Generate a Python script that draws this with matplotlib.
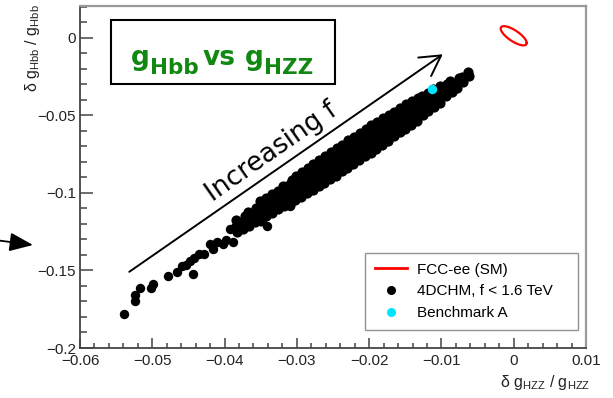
import numpy as np
import matplotlib
matplotlib.use('Agg')
import matplotlib.pyplot as plt
from matplotlib.lines import Line2D
from matplotlib.patches import Rectangle, FancyArrowPatch
from matplotlib.transforms import IdentityTransform

# axis ticks
xtick_vals = [-0.06, -0.05, -0.04, -0.03, -0.02, -0.01, 0.0, 0.01]
xtick_labels = ['\u22120.06', '\u22120.05', '\u22120.04', '\u22120.03', '\u22120.02', '\u22120.01', '0', '0.01']
ytick_vals = [-0.2, -0.15, -0.1, -0.05, 0.0]
ytick_labels = ['\u22120.2', '\u22120.15', '\u22120.1', '\u22120.05', '0']

# sparse points at the low end of the 4DCHM scan
tail_pts = [(-0.0539, -0.1782), (-0.0524, -0.1699), (-0.0524, -0.1660), (-0.0517, -0.1615),
            (-0.0502, -0.1615), (-0.0499, -0.1590), (-0.0478, -0.1538), (-0.0466, -0.1513),
            (-0.0459, -0.1474), (-0.0453, -0.1462), (-0.0448, -0.1442), (-0.0442, -0.1417),
            (-0.0444, -0.1526), (-0.0435, -0.1397), (-0.0428, -0.1397), (-0.0420, -0.1327),
            (-0.0416, -0.1359), (-0.0411, -0.1314), (-0.0402, -0.1327), (-0.0398, -0.1301),
            (-0.0393, -0.1231), (-0.0386, -0.1218), (-0.0388, -0.1314), (-0.0376, -0.1186),
            (-0.0370, -0.1160), (-0.0341, -0.1212), (-0.0310, -0.1083)]

# dense band of 4DCHM points
band_pts = [
    (-0.0383, -0.1255), (-0.0380, -0.1215), (-0.0384, -0.1172),
    (-0.0374, -0.1232), (-0.0376, -0.1188), (-0.0372, -0.1150),
    (-0.0366, -0.1215), (-0.0364, -0.1170), (-0.0368, -0.1125),
    (-0.0358, -0.1190), (-0.0360, -0.1148), (-0.0356, -0.1100),
    (-0.0350, -0.1180), (-0.0352, -0.1135), (-0.0348, -0.1095), (-0.0351, -0.1055),
    (-0.0342, -0.1150), (-0.0340, -0.1110), (-0.0344, -0.1070), (-0.0342, -0.1030),
    (-0.0334, -0.1130), (-0.0336, -0.1085), (-0.0332, -0.1048), (-0.0335, -0.1005),
    (-0.0326, -0.1105), (-0.0324, -0.1060), (-0.0328, -0.1020), (-0.0326, -0.0985),
    (-0.0318, -0.1085), (-0.0320, -0.1040), (-0.0316, -0.0998), (-0.0319, -0.0955),
    (-0.0310, -0.1075), (-0.0308, -0.1030), (-0.0312, -0.0985), (-0.0310, -0.0940), (-0.0307, -0.0915),
    (-0.0302, -0.1048), (-0.0304, -0.1005), (-0.0300, -0.0965), (-0.0303, -0.0925), (-0.0301, -0.0890),
    (-0.0294, -0.1025), (-0.0292, -0.0980), (-0.0296, -0.0942), (-0.0294, -0.0900), (-0.0293, -0.0865),
    (-0.0286, -0.1000), (-0.0288, -0.0958), (-0.0284, -0.0915), (-0.0287, -0.0875), (-0.0285, -0.0840),
    (-0.0278, -0.0980), (-0.0276, -0.0935), (-0.0280, -0.0890), (-0.0278, -0.0850), (-0.0277, -0.0815),
    (-0.0270, -0.0955), (-0.0272, -0.0910), (-0.0268, -0.0868), (-0.0271, -0.0825), (-0.0269, -0.0790),
    (-0.0262, -0.0935), (-0.0260, -0.0890), (-0.0264, -0.0845), (-0.0262, -0.0800), (-0.0261, -0.0760),
    (-0.0254, -0.0912), (-0.0256, -0.0865), (-0.0252, -0.0820), (-0.0255, -0.0778), (-0.0253, -0.0735),
    (-0.0246, -0.0888), (-0.0244, -0.0842), (-0.0248, -0.0798), (-0.0246, -0.0752), (-0.0245, -0.0712),
    (-0.0238, -0.0862), (-0.0240, -0.0818), (-0.0236, -0.0772), (-0.0239, -0.0728), (-0.0237, -0.0688),
    (-0.0230, -0.0840), (-0.0228, -0.0795), (-0.0232, -0.0748), (-0.0230, -0.0705), (-0.0229, -0.0662),
    (-0.0222, -0.0815), (-0.0224, -0.0770), (-0.0220, -0.0725), (-0.0223, -0.0680), (-0.0221, -0.0640),
    (-0.0214, -0.0790), (-0.0212, -0.0745), (-0.0216, -0.0700), (-0.0214, -0.0655), (-0.0213, -0.0615),
    (-0.0206, -0.0765), (-0.0208, -0.0720), (-0.0204, -0.0676), (-0.0207, -0.0632), (-0.0205, -0.0590),
    (-0.0198, -0.0742), (-0.0196, -0.0698), (-0.0200, -0.0652), (-0.0198, -0.0608), (-0.0197, -0.0565),
    (-0.0190, -0.0718), (-0.0192, -0.0672), (-0.0188, -0.0628), (-0.0191, -0.0585), (-0.0189, -0.0542),
    (-0.0182, -0.0692), (-0.0180, -0.0648), (-0.0184, -0.0605), (-0.0182, -0.0560), (-0.0181, -0.0518),
    (-0.0174, -0.0668), (-0.0176, -0.0625), (-0.0172, -0.0580), (-0.0175, -0.0535), (-0.0173, -0.0495),
    (-0.0166, -0.0632), (-0.0164, -0.0590), (-0.0168, -0.0552), (-0.0166, -0.0512), (-0.0165, -0.0478),
    (-0.0158, -0.0608), (-0.0160, -0.0568), (-0.0156, -0.0530), (-0.0159, -0.0490), (-0.0157, -0.0455),
    (-0.0150, -0.0585), (-0.0148, -0.0545), (-0.0152, -0.0505), (-0.0150, -0.0465), (-0.0149, -0.0430),
    (-0.0142, -0.0560), (-0.0144, -0.0520), (-0.0140, -0.0480), (-0.0143, -0.0440), (-0.0141, -0.0408),
    (-0.0134, -0.0535), (-0.0132, -0.0495), (-0.0136, -0.0455), (-0.0134, -0.0418), (-0.0133, -0.0385),
    (-0.0126, -0.0495), (-0.0128, -0.0455), (-0.0124, -0.0415), (-0.0127, -0.0378),
    (-0.0118, -0.0470), (-0.0116, -0.0430), (-0.0120, -0.0392), (-0.0118, -0.0355),
    (-0.0110, -0.0445), (-0.0112, -0.0405), (-0.0108, -0.0368), (-0.0111, -0.0332),
    (-0.0102, -0.0420), (-0.0100, -0.0380), (-0.0104, -0.0345), (-0.0102, -0.0310),
    (-0.0094, -0.0378), (-0.0096, -0.0340), (-0.0092, -0.0300),
    (-0.0086, -0.0352), (-0.0084, -0.0315), (-0.0088, -0.0278),
    (-0.0078, -0.0322), (-0.0080, -0.0290), (-0.0076, -0.0258),
    (-0.0070, -0.0285), (-0.0071, -0.0255),
    (-0.0062, -0.0245), (-0.0063, -0.0222),
]

# extra points inside the band (it is solid black in the plot)
fill_pts = [
    (-0.0346, -0.1112), (-0.0330, -0.1065), (-0.0314, -0.1018), (-0.0298, -0.0985),
    (-0.0290, -0.0925), (-0.0274, -0.0880), (-0.0258, -0.0835), (-0.0250, -0.0790),
    (-0.0242, -0.0760), (-0.0234, -0.0780), (-0.0226, -0.0705), (-0.0218, -0.0725),
    (-0.0210, -0.0665), (-0.0202, -0.0700), (-0.0194, -0.0610), (-0.0186, -0.0655),
    (-0.0178, -0.0585), (-0.0170, -0.0610), (-0.0162, -0.0530), (-0.0154, -0.0555),
    (-0.0146, -0.0480), (-0.0138, -0.0500), (-0.0130, -0.0445), (-0.0122, -0.0450),
    (-0.0114, -0.0390), (-0.0106, -0.0395), (-0.0098, -0.0345), (-0.0090, -0.0330),
]

benchmark_x = [-0.0113]
benchmark_y = [-0.0333]

# FCC-ee (SM) contour: centre, half extents, correlation
fcc_center = (0.0, 0.0013)
fcc_sigma = (0.0018, 0.0062)
fcc_rho = -0.75

legend_labels = ['FCC-ee (SM)', '4DCHM, f < 1.6 TeV', 'Benchmark A']
title_parts = ['g', 'Hbb', 'vs', 'g', 'HZZ']

plt.rcParams['mathtext.fontset'] = 'custom'
plt.rcParams['mathtext.rm'] = 'Liberation Sans'

W, H = 613, 398
fig = plt.figure(figsize=(W / 100, H / 100), dpi=100)
ax = fig.add_axes([80 / W, 1 - 348 / H, 506 / W, 342 / H])

tail = np.array(tail_pts)
band = np.array(band_pts + fill_pts)
ax.scatter(tail[:, 0], tail[:, 1], s=46, color='black', linewidths=0, zorder=3)
ax.scatter(band[:, 0], band[:, 1], s=54, color='black', linewidths=0, zorder=3)
ax.scatter(benchmark_x, benchmark_y, s=46, color='#00e5ff', linewidths=0, zorder=4)

t = np.linspace(0, 2 * np.pi, 200)
ex = fcc_center[0] + fcc_sigma[0] * np.cos(t)
ey = fcc_center[1] + fcc_sigma[1] * (fcc_rho * np.cos(t) + np.sqrt(1 - fcc_rho ** 2) * np.sin(t))
ax.plot(ex, ey, color='red', lw=1.6, zorder=3)

ax.set_xlim(-0.06, 0.01)
ax.set_ylim(-0.2, 0.0205)
ax.set_xticks(xtick_vals)
ax.set_xticklabels(xtick_labels)
ax.set_yticks(ytick_vals)
ax.set_yticklabels(ytick_labels)
ax.set_xticks(np.arange(-0.06, 0.0101, 0.002), minor=True)
ax.set_yticks(np.arange(-0.2, 0.0201, 0.01), minor=True)

for lab in ax.get_xticklabels() + ax.get_yticklabels():
    lab.set_family('Liberation Sans')
    lab.set_fontsize(11)
    lab.set_color('#222222')
ax.tick_params(axis='both', which='both', direction='in', color='#444444', width=1.1)
ax.tick_params(axis='y', which='major', length=9.5, pad=3)
ax.tick_params(axis='y', which='minor', length=5)
ax.tick_params(axis='x', which='major', length=7.5, pad=4)
ax.tick_params(axis='x', which='minor', length=3.8)
for side in ['left', 'bottom']:
    ax.spines[side].set_color('#444444')
    ax.spines[side].set_linewidth(1.3)
for side in ['top', 'right']:
    ax.spines[side].set_color('#999999')
    ax.spines[side].set_linewidth(1.6)

# axis titles, ROOT style
fig.text(33 / W, 1 - 48 / H, '\u03b4 g$_{\\mathrm{Hbb}}$ / g$_{\\mathrm{Hbb}}$', rotation=90,
         ha='center', va='center', fontsize=11.5, family='Liberation Sans', color='#222222')
fig.text(590 / W, 1 - 383 / H, '\u03b4 g$_{\\mathrm{HZZ}}$ / g$_{\\mathrm{HZZ}}$',
         ha='right', va='center', fontsize=11.5, family='Liberation Sans', color='#222222')

# legend
handles = [Line2D([], [], color='red', lw=2),
           Line2D([], [], ls='none', marker='o', ms=5.5, color='black'),
           Line2D([], [], ls='none', marker='o', ms=5.5, color='#00e5ff')]
leg = ax.legend(handles, legend_labels, loc='lower left',
                bbox_to_anchor=((365 - 80) / 506, 18 / 342, 213 / 506, 87 / 342),
                mode='expand', borderaxespad=0, borderpad=0.65, labelspacing=0.5,
                handlelength=2.1, handletextpad=0.65, fancybox=False,
                prop={'family': 'Liberation Sans', 'size': 11})
leg.get_frame().set_edgecolor('#777777')
leg.get_frame().set_linewidth(1.0)

# title box
ax.add_patch(Rectangle(((111 - 80) / 506, (348 - 84) / 342), 224 / 506, 64 / 342,
                       transform=ax.transAxes, facecolor='white', edgecolor='black',
                       lw=1.5, zorder=5))
green = '#118811'
renderer = fig.canvas.get_renderer()
sizes = [19, 15.5, 19, 19, 15.5]
drops = [0, 9, 0, 0, 9]
gaps = [0, 0, 4, 10, 0]
texts = []
x = 0
for s, fs, dr, gp in zip(title_parts, sizes, drops, gaps):
    x += gp
    txt = fig.text(x, (H - 65) - dr, s, transform=IdentityTransform(), fontsize=fs,
                   fontweight='bold', color=green, family='DejaVu Sans', va='baseline', zorder=6)
    w = txt.get_window_extent(renderer).width
    texts.append((txt, x))
    x += w
shift = 222 - x / 2
for txt, x0 in texts:
    txt.set_x(x0 + shift)

# increasing f arrow
ax.annotate('', xy=(-0.0095, -0.0096), xytext=(-0.0535, -0.1519),
            arrowprops=dict(arrowstyle='->,head_length=0.8,head_width=0.45',
                            mutation_scale=18, lw=1.4, color='black'), zorder=5)
ax.text((272 - 80) / 506, (348 - 152) / 342, 'Increasing f', transform=ax.transAxes,
        rotation=35, ha='center', va='center', fontsize=19, family='DejaVu Sans', zorder=5)

# arrow coming from the left edge
fig.patches.append(FancyArrowPatch(
    (-5 / W, 1 - 240 / H), (33 / W, 1 - 245 / H), transform=fig.transFigure,
    arrowstyle='-|>,head_length=0.6,head_width=0.24', mutation_scale=24,
    lw=1.3, color='black', shrinkA=0, shrinkB=0))

fig.savefig('out.png', dpi=100)
